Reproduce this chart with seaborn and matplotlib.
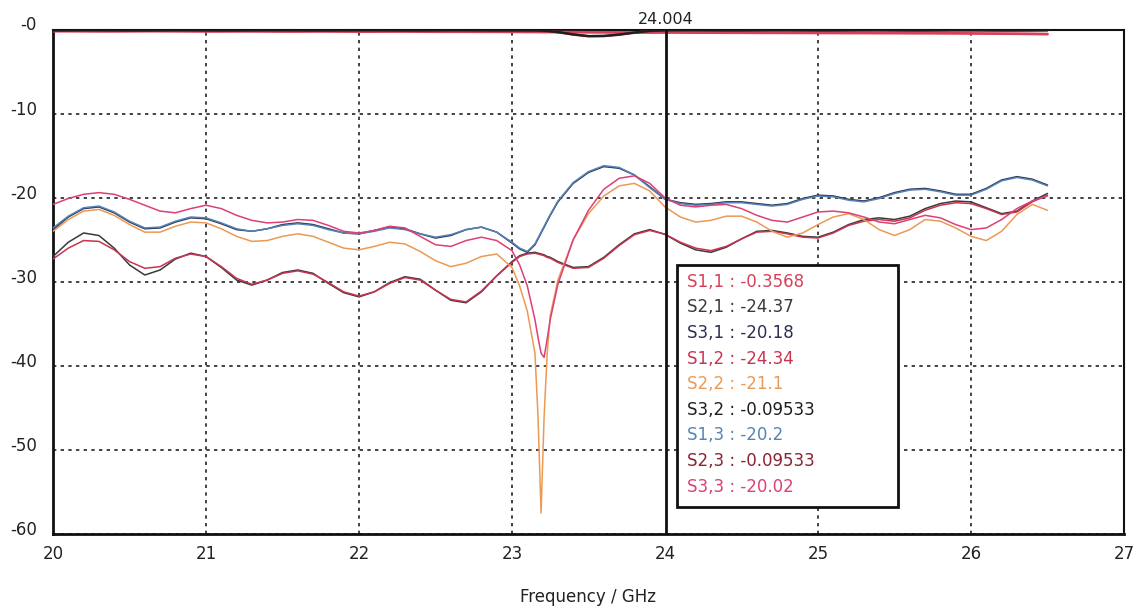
import matplotlib
matplotlib.use("Agg")
import matplotlib.pyplot as plt
import matplotlib.transforms as mtransforms
from matplotlib.patches import Rectangle
import pandas as pd
import seaborn as sns

# Frequency sweep (GHz); denser points around the 23.2 GHz resonance
freq_ghz = [
    20.0, 20.1, 20.2, 20.3, 20.4, 20.5, 20.6, 20.7, 20.8, 20.9,
    21.0, 21.1, 21.2, 21.3, 21.4, 21.5, 21.6, 21.7, 21.8, 21.9,
    22.0, 22.1, 22.2, 22.3, 22.4, 22.5, 22.6, 22.7, 22.8, 22.9, 23.0,
    23.05, 23.1, 23.15, 23.17, 23.19, 23.21, 23.23, 23.25,
    23.3, 23.4, 23.5, 23.6, 23.7, 23.8, 23.9, 24.0,
    24.1, 24.2, 24.3, 24.4, 24.5, 24.6, 24.7, 24.8, 24.9, 25.0,
    25.1, 25.2, 25.3, 25.4, 25.5, 25.6, 25.7, 25.8, 25.9, 26.0,
    26.1, 26.2, 26.3, 26.4, 26.5,
]

# S-parameter magnitudes in dB
s11 = [
    -0.20, -0.20, -0.21, -0.22, -0.22, -0.21, -0.20, -0.20, -0.21, -0.22,
    -0.23, -0.23, -0.22, -0.22, -0.23, -0.24, -0.24, -0.23, -0.23, -0.24,
    -0.25, -0.25, -0.24, -0.24, -0.25, -0.26, -0.26, -0.26, -0.27, -0.27, -0.28,
    -0.28, -0.29, -0.29, -0.29, -0.30, -0.30, -0.30, -0.30,
    -0.31, -0.32, -0.33, -0.34, -0.35, -0.35, -0.36, -0.3568,
    -0.36, -0.37, -0.37, -0.38, -0.38, -0.39, -0.39, -0.40, -0.40, -0.41,
    -0.41, -0.42, -0.42, -0.43, -0.43, -0.44, -0.44, -0.45, -0.46, -0.47,
    -0.48, -0.49, -0.50, -0.52, -0.55,
]
s21 = [
    -27.0, -25.3, -24.2, -24.5, -26.0, -28.0, -29.2, -28.6, -27.3, -26.6,
    -27.0, -28.3, -29.8, -30.4, -29.8, -28.9, -28.6, -29.0, -30.2, -31.3,
    -31.8, -31.2, -30.1, -29.4, -29.7, -31.0, -32.2, -32.5, -31.2, -29.3, -27.6,
    -26.9, -26.6, -26.5, -26.6, -26.7, -26.8, -27.0, -27.1,
    -27.6, -28.3, -28.2, -27.1, -25.6, -24.3, -23.8, -24.37,
    -25.4, -26.2, -26.5, -25.9, -24.9, -24.0, -23.9, -24.2, -24.6, -24.7,
    -24.1, -23.2, -22.6, -22.4, -22.6, -22.2, -21.3, -20.7, -20.4, -20.5,
    -21.2, -21.9, -21.6, -20.4, -19.5,
]
s31 = [
    -23.8, -22.3, -21.3, -21.1, -21.8, -22.9, -23.7, -23.6, -22.9, -22.4,
    -22.5, -23.1, -23.8, -24.0, -23.7, -23.2, -23.0, -23.2, -23.7, -24.2,
    -24.3, -23.9, -23.5, -23.7, -24.3, -24.8, -24.5, -23.8, -23.5, -24.1, -25.4,
    -26.1, -26.5, -25.6, -24.9, -24.2, -23.5, -22.8, -22.1,
    -20.5, -18.3, -17.0, -16.3, -16.5, -17.3, -18.7, -20.18,
    -20.6, -20.8, -20.7, -20.5, -20.5, -20.7, -20.9, -20.7, -20.1, -19.7,
    -19.8, -20.2, -20.4, -20.0, -19.4, -19.0, -18.9, -19.2, -19.6, -19.6,
    -18.9, -17.9, -17.5, -17.8, -18.5,
]
s12 = [
    -27.3, -26.0, -25.1, -25.2, -26.2, -27.6, -28.4, -28.2, -27.2, -26.7,
    -27.0, -28.2, -29.6, -30.3, -29.8, -29.0, -28.7, -29.1, -30.1, -31.2,
    -31.7, -31.2, -30.2, -29.5, -29.8, -31.0, -32.1, -32.4, -31.1, -29.3, -27.7,
    -27.0, -26.7, -26.6, -26.7, -26.8, -26.9, -27.1, -27.2,
    -27.7, -28.4, -28.3, -27.2, -25.7, -24.4, -23.9, -24.34,
    -25.3, -26.0, -26.3, -25.8, -24.9, -24.1, -24.0, -24.3, -24.7, -24.8,
    -24.2, -23.3, -22.8, -22.6, -22.8, -22.4, -21.5, -20.9, -20.6, -20.7,
    -21.3, -22.0, -21.7, -20.5, -19.7,
]
s22 = [
    -24.0, -22.6, -21.6, -21.4, -22.1, -23.2, -24.1, -24.1, -23.4, -22.9,
    -23.0, -23.7, -24.6, -25.2, -25.1, -24.6, -24.3, -24.6, -25.3, -26.0,
    -26.2, -25.8, -25.3, -25.5, -26.4, -27.5, -28.2, -27.8, -27.0, -26.7, -28.3,
    -30.5, -33.5, -38.5, -46.0, -57.5, -46.0, -38.5, -34.0,
    -29.8, -25.0, -21.9, -19.8, -18.6, -18.3, -19.2, -21.1,
    -22.3, -22.9, -22.7, -22.2, -22.2, -22.9, -24.0, -24.7, -24.2, -23.2,
    -22.3, -21.9, -22.6, -23.8, -24.5, -23.8, -22.6, -22.8, -23.6, -24.6,
    -25.1, -24.0, -22.0, -20.8, -21.5,
]
s32 = [
    -0.10, -0.09, -0.08, -0.08, -0.09, -0.10, -0.10, -0.09, -0.08, -0.08,
    -0.09, -0.10, -0.10, -0.09, -0.08, -0.08, -0.09, -0.10, -0.10, -0.09,
    -0.08, -0.08, -0.09, -0.10, -0.10, -0.09, -0.08, -0.08, -0.09, -0.10, -0.10,
    -0.10, -0.10, -0.11, -0.12, -0.13, -0.15, -0.17, -0.20,
    -0.30, -0.58, -0.78, -0.76, -0.60, -0.36, -0.16, -0.09533,
    -0.08, -0.08, -0.09, -0.10, -0.10, -0.09, -0.08, -0.08, -0.09, -0.10,
    -0.10, -0.09, -0.08, -0.08, -0.09, -0.10, -0.10, -0.09, -0.08, -0.08,
    -0.09, -0.10, -0.10, -0.09, -0.08,
]
s13 = [
    -23.6, -22.2, -21.2, -21.0, -21.7, -22.8, -23.6, -23.5, -22.8, -22.3,
    -22.4, -23.0, -23.7, -24.0, -23.7, -23.3, -23.1, -23.3, -23.8, -24.2,
    -24.3, -24.0, -23.6, -23.8, -24.3, -24.7, -24.4, -23.8, -23.5, -24.1, -25.3,
    -26.0, -26.4, -25.5, -24.8, -24.1, -23.4, -22.7, -22.0,
    -20.4, -18.2, -16.9, -16.2, -16.4, -17.3, -18.8, -20.2,
    -20.7, -20.9, -20.8, -20.6, -20.6, -20.8, -21.0, -20.8, -20.2, -19.8,
    -19.9, -20.3, -20.5, -20.1, -19.5, -19.1, -19.0, -19.3, -19.7, -19.7,
    -19.0, -18.0, -17.6, -17.9, -18.6,
]
s23 = [
    -0.12, -0.11, -0.10, -0.10, -0.11, -0.12, -0.12, -0.11, -0.10, -0.10,
    -0.11, -0.12, -0.12, -0.11, -0.10, -0.10, -0.11, -0.12, -0.12, -0.11,
    -0.10, -0.10, -0.11, -0.12, -0.12, -0.11, -0.10, -0.10, -0.11, -0.12, -0.12,
    -0.12, -0.12, -0.13, -0.14, -0.15, -0.17, -0.19, -0.22,
    -0.32, -0.60, -0.80, -0.78, -0.62, -0.38, -0.18, -0.09533,
    -0.10, -0.10, -0.11, -0.12, -0.12, -0.11, -0.10, -0.10, -0.11, -0.12,
    -0.12, -0.11, -0.10, -0.10, -0.11, -0.12, -0.12, -0.11, -0.10, -0.10,
    -0.11, -0.12, -0.12, -0.11, -0.10,
]
s33 = [
    -20.8, -20.1, -19.6, -19.4, -19.6, -20.2, -20.9, -21.6, -21.8, -21.3,
    -20.9, -21.3, -22.1, -22.7, -23.0, -22.9, -22.6, -22.7, -23.3, -24.0,
    -24.2, -23.9, -23.4, -23.6, -24.6, -25.6, -25.8, -25.1, -24.7, -25.1, -26.3,
    -28.0, -30.5, -34.5, -36.6, -38.5, -39.0, -36.8, -34.5,
    -30.3, -25.0, -21.5, -19.0, -17.7, -17.4, -18.3, -20.02,
    -20.9, -21.1, -20.9, -20.8, -21.3, -22.1, -22.7, -22.9, -22.3, -21.7,
    -21.6, -21.8, -22.3, -22.9, -23.1, -22.6, -22.1, -22.4, -23.2, -23.8,
    -23.6, -22.6, -21.3, -20.4, -19.8,
]

trace_names = ["S1,1", "S2,1", "S3,1", "S1,2", "S2,2", "S3,2", "S1,3", "S2,3", "S3,3"]
trace_values = [s11, s21, s31, s12, s22, s32, s13, s23, s33]
trace_colors = ["#d6405a", "#3a3a3e", "#2a3050", "#c83450", "#eb9a55",
                "#1e1e1e", "#5584b4", "#8a2431", "#dd3f78"]
legend_values = ["-0.3568", "-24.37", "-20.18", "-24.34", "-21.1",
                 "-0.09533", "-20.2", "-0.09533", "-20.02"]

marker_freq = 24.004
x_ticks = [20, 21, 22, 23, 24, 25, 26, 27]
y_ticks = [-60, -50, -40, -30, -20, -10, 0]
y_tick_labels = ["-60", "-50", "-40", "-30", "-20", "-10", "-0"]

for v in trace_values:
    assert len(v) == len(freq_ghz)

df = pd.concat(
    [pd.DataFrame({"freq": freq_ghz, "dB": vals, "trace": name})
     for name, vals in zip(trace_names, trace_values)],
    ignore_index=True,
)
palette = dict(zip(trace_names, trace_colors))

sns.set_style("white")
plt.rcParams["font.family"] = ["DejaVu Sans"]

W, H = 1136, 612
fig = plt.figure(figsize=(W / 100, H / 100), dpi=100)
ax_l, ax_r, ax_t, ax_b = 53, 1124, 29.5, 534
ax = fig.add_axes([ax_l / W, 1 - ax_b / H, (ax_r - ax_l) / W, (ax_b - ax_t) / H])

# draw order: mid-level traces first, near-0 dB traces on top
draw_order = ["S2,1", "S1,2", "S3,1", "S1,3", "S2,2", "S3,3", "S1,1", "S2,3", "S3,2"]
widths = {"S1,1": 2.0, "S2,3": 1.8, "S3,2": 1.6}
for i, name in enumerate(draw_order):
    sub = df[df["trace"] == name]
    sns.lineplot(data=sub, x="freq", y="dB", color=palette[name],
                 lw=widths.get(name, 1.1), ax=ax, legend=False,
                 estimator=None, zorder=3 + i)

ax.set_xlim(20, 27)
ax.set_ylim(-60, 0)
ax.set_xticks(x_ticks)
ax.set_xticklabels([str(t) for t in x_ticks])
ax.set_yticks(y_ticks)
ax.set_yticklabels(y_tick_labels)

ax.set_axisbelow(True)
ax.grid(True, color="#222222", lw=1.2, ls=(0, (2, 2.6)))
# the marker line takes the place of the 24 GHz grid line
for t, gl in zip(x_ticks, ax.get_xgridlines()):
    if t == 24:
        gl.set_visible(False)

for side in ["left", "bottom"]:
    ax.spines[side].set_linewidth(2.0)
    ax.spines[side].set_color("#111111")
for side in ["top", "right"]:
    ax.spines[side].set_linewidth(1.5)
    ax.spines[side].set_color("#111111")
    ax.spines[side].set_visible(True)

ax.tick_params(axis="both", direction="out", length=6, width=1.2,
               color="#222222", labelsize=12, labelcolor="#222222")
ax.tick_params(axis="x", pad=2)
ax.tick_params(axis="y", pad=5.5)
shift = mtransforms.ScaledTranslation(0, 6 / 100, fig.dpi_scale_trans)
for lbl in ax.get_yticklabels():
    lbl.set_transform(lbl.get_transform() + shift)

ax.set_xlabel("Frequency / GHz", fontsize=12, color="#222222", labelpad=18)
ax.set_ylabel("")

# marker line with its frequency readout
ax.axvline(marker_freq, color="#111111", lw=2.0, zorder=20)
ax.text(marker_freq, 1.0, f"{marker_freq:.3f}",
        transform=mtransforms.blended_transform_factory(ax.transData, ax.transAxes)
        + mtransforms.ScaledTranslation(0, 3 / 100, fig.dpi_scale_trans),
        ha="center", va="bottom", fontsize=11.5, color="#222222")

# marker readout box
def to_axes(px, py):
    return (px - ax_l) / (ax_r - ax_l), (ax_b - py) / (ax_b - ax_t)

bx0, by0 = to_axes(677, 507)
bx1, by1 = to_axes(898, 265)
ax.add_patch(Rectangle((bx0, by0), bx1 - bx0, by1 - by0, transform=ax.transAxes,
                       facecolor="white", edgecolor="#111111", lw=2.0,
                       zorder=30, clip_on=False))
for k, (name, val, col) in enumerate(zip(trace_names, legend_values, trace_colors)):
    tx, ty = to_axes(687, 281.7 + k * 25.6)
    ax.text(tx, ty, f"{name} : {val}", transform=ax.transAxes, color=col,
            fontsize=12, ha="left", va="center", zorder=31)

fig.savefig("out.png", dpi=100, facecolor="white")
